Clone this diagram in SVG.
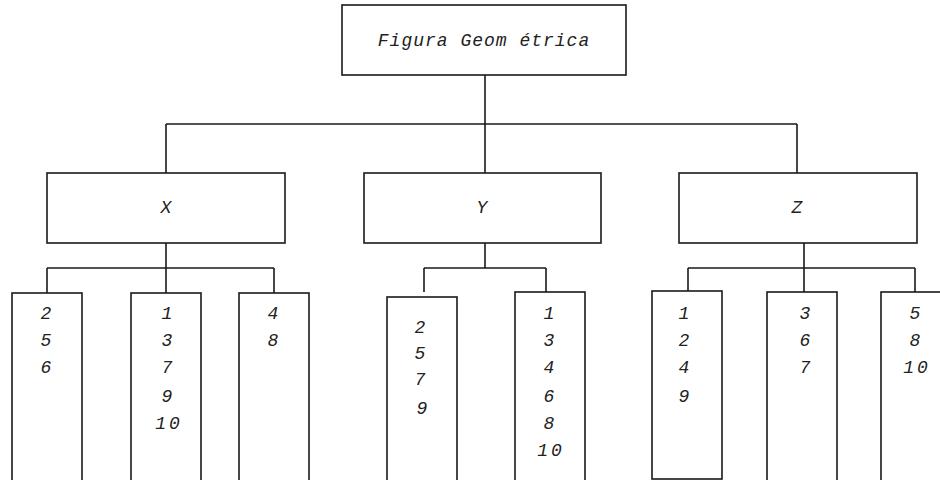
<svg xmlns="http://www.w3.org/2000/svg" width="940" height="480" viewBox="0 0 940 480">
<style>
.box{fill:#fff;stroke:#1a1a1a;stroke-width:1.6}
.ln{fill:none;stroke:#1a1a1a;stroke-width:1.6}
text{font-family:"Liberation Mono","Courier New",monospace;font-style:italic;font-size:18px;fill:#222;text-anchor:middle}
.n{letter-spacing:3px}
</style>
<rect width="940" height="480" fill="#fff"/>
<g id="connectors">
<path class="ln" d="M485 75V124M166 124H797M166 124V173M485 124V173M797 124V173"/>
<path class="ln" d="M166 243V293M47 268H274M47 268V293M274 268V293"/>
<path class="ln" d="M485 243V268M424 268H546M424 268V292M546 268V292"/>
<path class="ln" d="M804 243V292M688 268H915M688 268V291M915 268V292"/>
</g>
<g id="root"><rect class="box" x="342" y="5" width="284" height="70"/><text x="484" y="46" letter-spacing="1">Figura Geom étrica</text></g>
<g id="X"><rect class="box" x="47" y="173" width="238" height="70"/><text x="166" y="213">X</text></g>
<g id="Y"><rect class="box" x="364" y="173" width="237" height="70"/><text x="482" y="213">Y</text></g>
<g id="Z"><rect class="box" x="679" y="173" width="238" height="70"/><text x="797" y="213">Z</text></g>
<g id="X1"><rect class="box" x="12" y="293" width="70" height="190"/><text x="46" y="319">2</text><text x="46" y="346">5</text><text x="46" y="373">6</text></g>
<g id="X2"><rect class="box" x="131" y="293" width="70" height="190"/><text x="167" y="319">1</text><text x="167" y="346">3</text><text x="167" y="373">7</text><text x="167" y="402">9</text><text class="n" x="169" y="429">10</text></g>
<g id="X3"><rect class="box" x="239" y="293" width="70" height="190"/><text x="273" y="319">4</text><text x="273" y="346">8</text></g>
<g id="Y1"><rect class="box" x="387" y="297" width="70" height="190"/><text x="420" y="333">2</text><text x="420" y="359">5</text><text x="420" y="385">7</text><text x="422" y="414">9</text></g>
<g id="Y2"><rect class="box" x="515" y="292" width="70" height="190"/><text x="549" y="319">1</text><text x="549" y="346">3</text><text x="549" y="373">4</text><text x="549" y="402">6</text><text x="549" y="429">8</text><text class="n" x="551" y="456">10</text></g>
<g id="Z1"><rect class="box" x="652" y="291" width="70" height="188"/><text x="684" y="319">1</text><text x="684" y="346">2</text><text x="684" y="373">4</text><text x="684" y="402">9</text></g>
<g id="Z2"><rect class="box" x="767" y="292" width="70" height="190"/><text x="805" y="319">3</text><text x="805" y="346">6</text><text x="805" y="373">7</text></g>
<g id="Z3"><rect class="box" x="881" y="292" width="70" height="190"/><text x="915" y="319">5</text><text x="915" y="346">8</text><text class="n" x="917" y="373">10</text></g>
</svg>
